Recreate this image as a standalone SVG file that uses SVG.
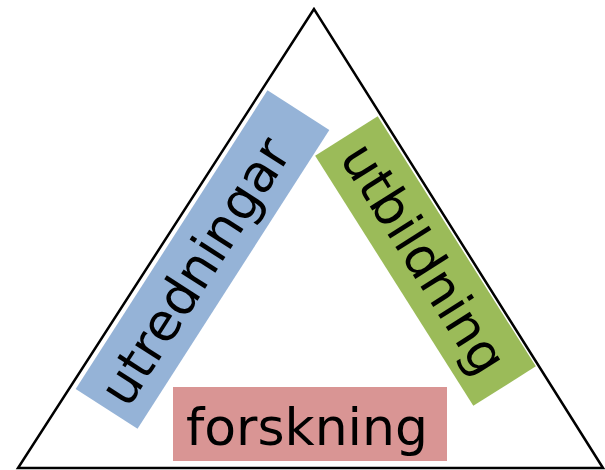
<svg xmlns="http://www.w3.org/2000/svg" width="605" height="470" viewBox="0 0 605 470">
<style>
.lbl{font-family:"DejaVu Sans","Verdana",sans-serif;font-size:52px;fill:#000;text-anchor:middle}
</style>
<rect width="605" height="470" fill="#fff"/>
<g id="triangle">
<polygon points="314,9 18,468 603,468" fill="none" stroke="#000" stroke-width="2.5" stroke-linejoin="miter"/>
</g>
<g id="utredningar" transform="translate(202.5,259.5) rotate(-57.3)">
<rect x="-177.5" y="-36.75" width="355" height="73.5" fill="#95B3D7"/>
<text class="lbl" x="-14" y="18">utredningar</text>
</g>
<g id="utbildning" transform="translate(425.5,261) rotate(57.7)">
<rect x="-148" y="-37" width="296" height="74" fill="#9BBB59"/>
<text class="lbl" x="-3" y="18">utbildning</text>
</g>
<g id="forskning">
<rect x="173" y="387" width="274" height="74" fill="#D99594"/>
<text class="lbl" x="307" y="445">forskning</text>
</g>
</svg>
